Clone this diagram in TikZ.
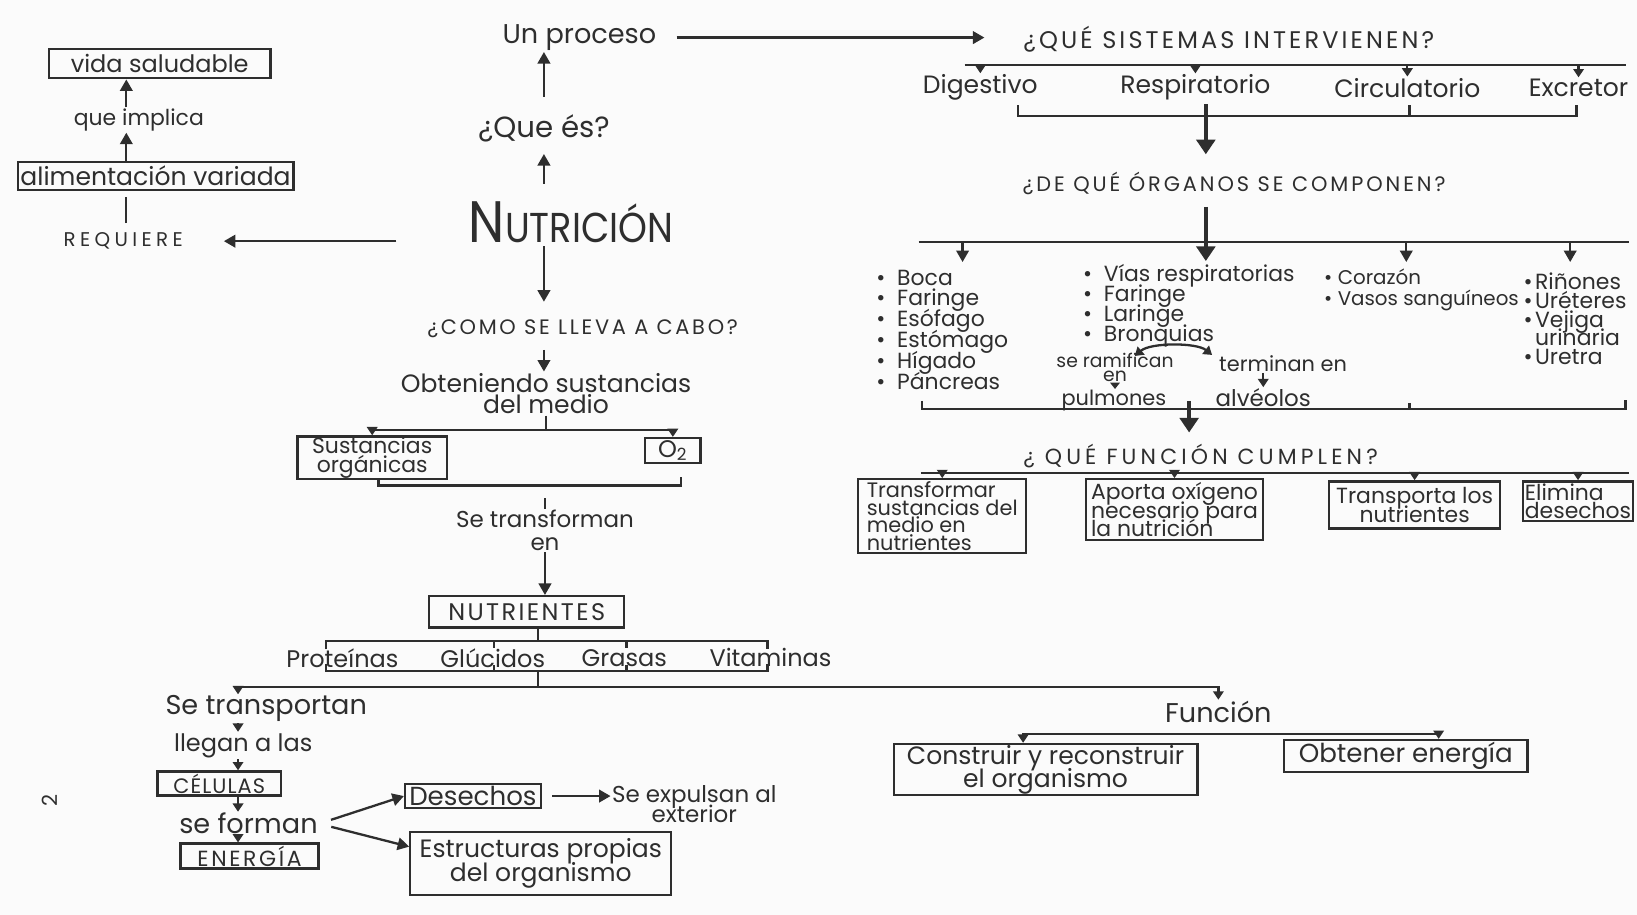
\documentclass[tikz,border=0pt]{standalone}
\usepackage{fontspec}
\setmainfont{Poppins}
\usepackage{graphicx}
\usetikzlibrary{arrows.meta}
\newcommand\fsz[1]{\fontsize{#1}{#1}\selectfont\lineskiplimit=-100pt\lineskip=0pt}
\newcommand\fszb[2]{\fontsize{#1}{#2}\selectfont\lineskiplimit=-100pt\lineskip=0pt}
\newcommand\lsp[1]{\addfontfeature{LetterSpace=#1}}
\newcommand\itm[1][10pt]{\makebox[#1][l]{\textbullet}}
\definecolor{ink}{gray}{0.18}
\definecolor{paper}{gray}{0.985}
\begin{document}
\begin{tikzpicture}[x=0.5pt,y=-0.5pt,
  txt/.style={text=ink,inner sep=0.5pt,align=center},
  box/.style={draw=ink,line width=1.1pt,text=ink,inner sep=1pt,align=center},
  ln/.style={draw=ink,line width=1.1pt},
  arr/.style={ln,-{Triangle[length=5.5pt,width=6pt]}},
  arrS/.style={ln,-{Triangle[length=4pt,width=5pt]}},
  arrXS/.style={ln,-{Triangle[length=3pt,width=4.5pt]}},
  arrB/.style={ln,{Triangle[length=4pt,width=5pt]}-{Triangle[length=4pt,width=5pt]}},
  arrT/.style={draw=ink,line width=1.6pt,-{Triangle[length=7pt,width=9pt]}},
  lst/.style={txt,align=left,anchor=north west},
]
\useasboundingbox (0,0) rectangle (1568,876);
\fill[paper] (0,0) rectangle (1568,876);

% ---------- left column
\node[box,font=\fsz{11.5},minimum width=106pt,minimum height=14pt] (vida) at (153,61) {vida saludable};
\node[txt,font=\fsz{10.5}] (impl) at (133,115) {que implica};
\node[box,font=\fsz{12},minimum width=132pt,minimum height=13.5pt] (alim) at (149,168.5) {alimentación variada};
\node[txt,font={\fsz{9.5}\lsp{22}}] (req) at (118,231) {REQUIERE};
\coordinate (cL) at (121,0);
\draw[arr] (cL |- impl.north) -- (cL |- vida.south);
\draw[arr] (cL |- alim.north) -- (cL |- impl.south);
\draw[ln,shorten <=4pt,shorten >=3pt] (cL |- req.north) -- (cL |- alim.south);

% ---------- centre column
\node[txt,font=\fsz{13}] (proc) at (555,36) {Un proceso};
\node[txt,font=\fsz{14}] (que) at (521,123) {¿Que és?};
\node[txt] (nut) at (547,213) {\scalebox{0.88}[1]{\fsz{28}N\fsz{20}UTRICIÓN}};
\node[txt,font={\fsz{10}\lsp{13}}] (como) at (558,315) {¿COMO SE LLEVA A CABO?};
\node[txt,font=\fszb{12}{10.5}] (obt) at (523,377) {Obteniendo sustancias\\del medio};
\node[txt,font={\fsz{11.5}\lsp{13}}] (sis) at (1177,38) {¿QUÉ SISTEMAS INTERVIENEN?};

\draw[arr,shorten <=8pt,shorten >=5pt] (que.south |- nut.north) -- (que.south);
\draw[arr,shorten <=8pt] (que.north) -- (que.north |- proc.south);
\draw[arr,shorten <=9pt,shorten >=18pt] (proc.east) -- (proc.east -| sis.west);
\draw[arr,shorten <=34pt,shorten >=19pt] (nut.west |- req.east) -- (req.east);
\draw[arr,shorten <=1pt,shorten >=8pt] (que.south |- nut.south) -- (que.south |- como.north);
\draw[arr,shorten <=5pt] (que.south |- como.south) -- (que.south |- obt.north);

\coordinate (b1) at (0,412);
\node[box,font=\fszb{10.5}{9},inner sep=0.3pt,minimum width=71.5pt,minimum height=18.5pt] (so) at (356.5,438.5) {Sustancias\\orgánicas};
\node[box,font=\fsz{11.5},minimum width=26.5pt,minimum height=11.5pt] (o2) at (644.5,431.5) {O\textsubscript{2}};
\draw[ln] (obt.south) -- (obt.south |- b1);
\draw[arrS] (obt.south |- b1) -| (so.north);
\draw[arrS] (obt.south |- b1) -| (o2.north);
\coordinate (b2) at (0,465);
\coordinate (soR) at ([xshift=3pt]so.south);
\coordinate (o2R) at ([xshift=4pt]o2.south);
\draw[ln] (soR) |- (o2R |- b2) -- ++(0,-8);

\node[txt,font=\fszb{11}{11}] (trans) at (522,508) {Se transforman\\en};
\draw[ln] (trans.north) -- ++(0,-10);
\node[box,font={\fsz{11.5}\lsp{10}},minimum width=93.5pt,minimum height=15pt] (ntr) at (504.5,586) {NUTRIENTES};
\draw[arr] (trans.south) -- (trans.south |- ntr.north);

% nutrient brackets
\coordinate (stx) at (515,0);
\draw[ln] (stx |- ntr.south) -- (515,614);
\draw[ln] (312,622) |- (735,614) -- (735,622);
\foreach \x in {473,600} \draw[ln] (\x,614) -- (\x,621);
\node[txt,font=\fsz{11.5}] (prot) at (328,630) {Proteínas};
\node[txt,font=\fsz{11.5}] (gluc) at (472,630) {Glúcidos};
\node[txt,font=\fsz{11.5}] (gras) at (598,630) {Grasas};
\node[txt,font=\fsz{11.5}] (vit) at (738,630) {Vitaminas};
\draw[ln] (312,636) |- (735,643) -- (735,636);
\foreach \x in {473,600} \draw[ln] (\x,637) -- (\x,643);
\coordinate (h3) at (515,658);
\draw[ln] (515,643) -- (h3);

% transport chain
\coordinate (cB) at (228,0);
\node[txt,font=\fsz{13}] (transp) at (255,679) {Se transportan};
\node[txt,font=\fsz{13}] (func) at (1167,682) {Función};
\draw[arrS] (h3) -| (cB |- transp.north);
\draw[arrS] (h3) -| (func.north);
\node[txt,font=\fsz{11.5}] (lleg) at (233,714) {llegan a las};
\node[box,font={\fsz{10}\lsp{5}},minimum width=59pt,minimum height=11.5pt] (cel) at (210,750.5) {CÉLULAS};
\node[txt,font=\fsz{13}] (form) at (238,789) {se forman};
\node[box,font={\fsz{10.5}\lsp{12}},minimum width=66pt,minimum height=12pt] (ener) at (239,820) {ENERGÍA};
\draw[arrS] (cB |- transp.south) -- (cB |- lleg.north);
\draw[arrS] (cB |- lleg.south) -- (cB |- cel.north);
\draw[arrS] (cB |- cel.south) -- (cB |- form.north);
\draw[arrS] (cB |- form.south) -- (cB |- ener.north);

\node[box,font=\fsz{12.5},minimum width=65pt,minimum height=11.5pt] (des) at (453,762.5) {Desechos};
\node[box,font=\fszb{12}{11.5},minimum width=125pt,minimum height=30pt] (est) at (518,827) {Estructuras propias\\del organismo};
\node[txt,font=\fszb{11}{9.5}] (exp) at (665,770) {Se expulsan al\\exterior};
\draw[arr,shorten <=6pt] (form.east) -- (des.west);
\draw[arr,shorten <=6pt] (form.east) -- ([yshift=8pt]est.west);
\draw[arr,shorten <=5pt] (des.east) -- (des.east -| exp.west);

\node[txt,font=\fsz{10},rotate=90] (pg) at (48,767) {2};

% function of nutrients
\node[box,font=\fszb{12}{11},inner sep=0.5pt,minimum width=145.5pt,minimum height=23pt] (cons) at (1001.5,737) {Construir y reconstruir\\el organismo};
\node[box,font=\fsz{12.5},minimum width=116.5pt,minimum height=13pt] (oen) at (1346.5,724) {Obtener energía};
\coordinate (fb) at (0,703);
\coordinate (cA) at (980,0);
\coordinate (oA) at (1378,0);
\draw[arrB] (cA |- cons.north) -- (cA |- fb) -- (oA |- fb) -- (oA |- oen.north);

% ---------- systems
\coordinate (s1) at (0,62);
\draw[ln] (924,62) -- (1557,62);
\node[txt,font=\fsz{12}] (dig) at (939,84) {Digestivo};
\node[txt,font=\fsz{12}] (resp) at (1145,84) {Respiratorio};
\node[txt,font=\fsz{12}] (circ) at (1348,84) {Circulatorio};
\node[txt,font=\fsz{12}] (exc) at (1512,84) {Excretor};
\foreach \n in {dig,resp,circ,exc} \draw[arrS] (\n.north |- s1) -- (\n.north);
\draw[ln] (975,101) |- (1510,111) -- (1510,101);
\draw[ln] (1350,101) -- (1350,111);
\node[txt,font={\fsz{10}\lsp{14}}] (org) at (1182,176) {¿DE QUÉ ÓRGANOS SE COMPONEN?};
\coordinate (sb) at (1155,100);
\draw[arrT,shorten >=8pt] (sb) -- (sb |- org.north);

% organs
\node[lst,font=\fszb{10.5}{10}] (ldig) at (838,257) {\itm Boca\\\itm Faringe\\\itm Esófago\\\itm Estómago\\\itm Hígado\\\itm Páncreas};
\node[lst,font=\fszb{10.5}{9.5}] (lresp) at (1036,252) {\itm Vías respiratorias\\\itm Faringe\\\itm Laringe\\\itm Bronquias};
\node[lst,font=\fszb{9.5}{10}] (lcirc) at (1267,256) {\itm[6.5pt]Corazón\\\itm[6.5pt]Vasos sanguíneos};
\node[lst,font=\fszb{10.5}{9}] (lexc) at (1458,260) {\itm[5.5pt]Riñones\\\itm[5.5pt]Uréteres\\\itm[5.5pt]Vejiga\\\hspace{5.5pt}urinaria\\\itm[5.5pt]Uretra};
\draw[ln] (880,232) -- (1560,232);
\draw[arrT,shorten <=5pt,shorten >=1pt] (sb |- org.south) -- (sb |- lresp.north);
\draw[arr] (922,232) -- (922,251);
\draw[arr] (1347,232) -- (1347,251);
\draw[arr] (1504,232) -- (1504,251);

\node[txt,font=\fszb{9}{6.5}] (ram) at (1068,352) {se ramifican\\en};
\node[txt,font=\fsz{10}] (pul) at (1067,384) {pulmones};
\node[txt,font=\fsz{10}] (term) at (1229,348) {terminan en};
\node[txt,font=\fsz{11}] (alv) at (1210,381) {alvéolos};
\draw[arrB] (1087,341) .. controls (1102,328) and (1146,328) .. (1161,340);
\draw[arrXS] (ram.south) -- (ram.south |- pul.north);
\draw[arrS] (alv.north |- term.south) -- (alv.north);

\draw[ln] (883,384) |- (1557,392) -- (1557,383);
\draw[ln] (1350,386) -- (1350,392);
\node[txt,font={\fsz{10.5}\lsp{19}}] (fun) at (1150,437) {¿ QUÉ FUNCIÓN CUMPLEN?};
\coordinate (fc) at (1139,384);
\draw[arrT,shorten >=5pt] (fc) -- (fc |- fun.north);

% functions of systems
\coordinate (h5) at (0,453);
\draw[ln] (882,453) -- (1560,453);
\node[box,font=\fszb{10}{8.5},align=left,minimum width=80.5pt,minimum height=34pt,anchor=north] (f1) at (902.5,458) {Transformar\\sustancias del\\medio en\\nutrientes};
\node[box,font=\fszb{10.5}{9},align=left,minimum width=85pt,minimum height=29pt,anchor=north] (f2) at (1125,458) {Aporta oxígeno\\necesario para\\la nutrición};
\node[box,font=\fszb{10.5}{9},minimum width=82pt,minimum height=22.5pt,anchor=north] (f3) at (1355,460) {Transporta los\\nutrientes};
\node[box,font=\fszb{10.5}{9},align=left,minimum width=51.5pt,minimum height=17pt,anchor=north] (f4) at (1511.5,460) {Elimina\\desechos};
\foreach \n in {f1,f2,f3,f4} \draw[arrS] (\n.north |- h5) -- (\n.north);
\end{tikzpicture}
\end{document}
